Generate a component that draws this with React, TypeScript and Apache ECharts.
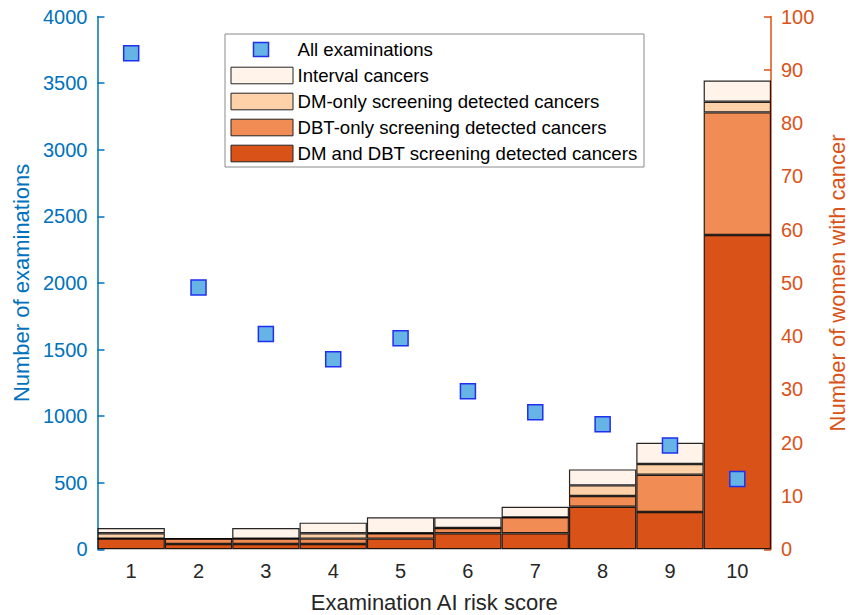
import React, { useEffect, useRef } from "react";
import * as echarts from "echarts";

const categories = ["1", "2", "3", "4", "5", "6", "7", "8", "9", "10"];
const allExaminations = [3725, 1966, 1616, 1426, 1584, 1186, 1028, 938, 780, 528];
const dmAndDbt = [2, 1, 1, 1, 2, 3, 3, 8, 7, 59];
const dbtOnly = [0, 1, 1, 1, 1, 1, 3, 2, 7, 23];
const dmOnly = [1, 0, 0, 1, 0, 0, 0, 2, 2, 2];
const intervalCancers = [1, 0, 2, 2, 3, 2, 2, 3, 4, 4];

const seriesNames = [
  "All examinations",
  "Interval cancers",
  "DM-only screening detected cancers",
  "DBT-only screening detected cancers",
  "DM and DBT screening detected cancers",
];

const BLUE = "#0072BD";
const ORANGE = "#D95319";
const C_DMDBT = "#D95319";
const C_DBT = "#F28C55";
const C_DM = "#FFD1A9";
const C_INT = "#FFF3EA";
const FONT = "Liberation Sans, Arial, Helvetica, sans-serif";

export default function App() {
  const ref = useRef<HTMLDivElement>(null);
  useEffect(() => {
    document.body.style.margin = "0";
    if (!ref.current) return;
    const chart = echarts.init(ref.current, undefined, { renderer: "svg" });
    const barStyle = (c: string) => ({
      color: c,
      borderColor: "rgba(0,0,0,0.85)",
      borderWidth: 1.2,
    });
    const legendRows = [
      { name: seriesNames[1], color: C_INT },
      { name: seriesNames[2], color: C_DM },
      { name: seriesNames[3], color: C_DBT },
      { name: seriesNames[4], color: C_DMDBT },
    ];
    const legendX = 225;
    const legendY = 34;
    const rowH = 26;
    const legendFont = `18.6px ${FONT}`;
    const graphic: any[] = [
      {
        type: "rect",
        shape: { x: legendX, y: legendY, width: 419, height: 133 },
        style: { fill: "#fff", stroke: "#8a8a8a", lineWidth: 1 },
        z: 100,
      },
      {
        type: "rect",
        shape: { x: 253.5, y: 42.5, width: 15, height: 14 },
        style: { fill: "#66B4E6", stroke: "#1F2FF0", lineWidth: 1.5 },
        z: 101,
      },
      {
        type: "text",
        x: 297.5,
        y: 49.5,
        style: {
          text: seriesNames[0],
          font: legendFont,
          fill: "#000",
          verticalAlign: "middle",
        },
        z: 101,
      },
    ];
    legendRows.forEach((r, i) => {
      const cy = 49.5 + rowH * (i + 1);
      graphic.push({
        type: "rect",
        shape: { x: 231, y: cy - 8.3, width: 62, height: 16.6 },
        style: { fill: r.color, stroke: "#222", lineWidth: 1 },
        z: 101,
      });
      graphic.push({
        type: "text",
        x: 297.5,
        y: cy,
        style: {
          text: r.name,
          font: legendFont,
          fill: "#000",
          verticalAlign: "middle",
        },
        z: 101,
      });
    });

    chart.setOption({
      animation: false,
      textStyle: { fontFamily: FONT },
      grid: {
        left: 97.5,
        right: 88,
        top: 16.5,
        bottom: 65.7,
        containLabel: false,
        outerBoundsMode: "none",
      },
      xAxis: {
        type: "category",
        data: categories,
        axisLine: { show: false },
        axisTick: { show: false },
        axisLabel: { color: "#262626", fontSize: 20, margin: 12, fontFamily: FONT },
        name: "Examination AI risk score",
        nameLocation: "middle",
        nameGap: 42,
        nameTextStyle: { color: "#262626", fontSize: 22, fontFamily: FONT },
      },
      yAxis: [
        {
          type: "value",
          min: 0,
          max: 4000,
          interval: 500,
          position: "left",
          axisLine: { show: true, lineStyle: { color: BLUE, width: 1.5 } },
          axisTick: { show: true, inside: true, length: 7, lineStyle: { color: BLUE, width: 1.5 } },
          axisLabel: {
            color: BLUE,
            fontSize: 20,
            margin: 10,
            fontFamily: FONT,
            formatter: (v: number) => String(v),
          },
          splitLine: { show: false },
          name: "Number of examinations",
          nameLocation: "middle",
          nameGap: 64,
          nameTextStyle: { color: BLUE, fontSize: 22, fontFamily: FONT },
        },
        {
          type: "value",
          min: 0,
          max: 100,
          interval: 10,
          position: "right",
          axisLine: { show: true, lineStyle: { color: ORANGE, width: 1.5 } },
          axisTick: { show: true, inside: true, length: 7, lineStyle: { color: ORANGE, width: 1.5 } },
          axisLabel: { color: ORANGE, fontSize: 20, margin: 10, fontFamily: FONT },
          splitLine: { show: false },
          name: "Number of women with cancer",
          nameLocation: "middle",
          nameGap: 55,
          nameRotate: 90,
          nameTextStyle: { color: ORANGE, fontSize: 22, fontFamily: FONT },
        },
      ],
      series: [
        {
          name: seriesNames[4],
          type: "bar",
          stack: "c",
          yAxisIndex: 1,
          barWidth: "100%",
          barCategoryGap: "0%",
          data: dmAndDbt,
          itemStyle: barStyle(C_DMDBT),
        },
        {
          name: seriesNames[3],
          type: "bar",
          stack: "c",
          yAxisIndex: 1,
          barWidth: "100%",
          data: dbtOnly,
          itemStyle: barStyle(C_DBT),
        },
        {
          name: seriesNames[2],
          type: "bar",
          stack: "c",
          yAxisIndex: 1,
          barWidth: "100%",
          data: dmOnly,
          itemStyle: barStyle(C_DM),
        },
        {
          name: seriesNames[1],
          type: "bar",
          stack: "c",
          yAxisIndex: 1,
          barWidth: "100%",
          data: intervalCancers,
          itemStyle: barStyle(C_INT),
        },
        {
          name: seriesNames[0],
          type: "scatter",
          yAxisIndex: 0,
          symbol: "rect",
          symbolSize: 15,
          data: allExaminations,
          itemStyle: { color: "#66B4E6", borderColor: "#1F2FF0", borderWidth: 1.5, opacity: 1 },
          z: 10,
        },
      ],
      graphic,
    });
    return () => chart.dispose();
  }, []);
  return <div ref={ref} style={{ width: 859, height: 615 }} />;
}
